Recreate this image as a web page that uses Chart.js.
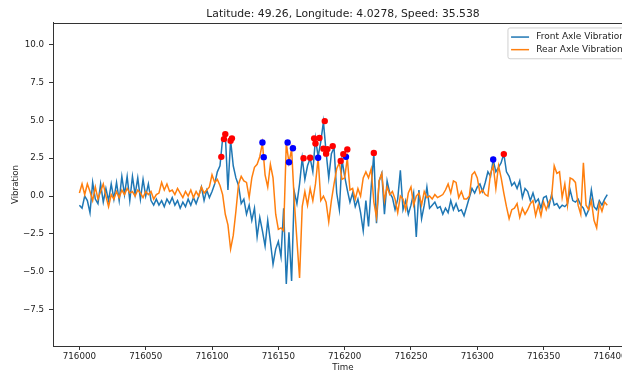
<!DOCTYPE html>
<html>
<head>
<meta charset="utf-8">
<script src="https://cdn.jsdelivr.net/npm/chart.js@4.4.0/dist/chart.umd.min.js"></script>
<style>
html,body{margin:0;padding:0;background:#fff;overflow:hidden;width:622px;height:373px}
#wrap{width:622px;height:373px;overflow:hidden;position:relative}
canvas{position:absolute;left:0;top:0}
</style>
</head>
<body>
<div id="wrap"><canvas id="c" width="640" height="373"></canvas></div>
<script>
// ---------- data ----------
const titleText = 'Latitude: 49.26, Longitude: 4.0278, Speed: 35.538';
const xLabel = 'Time';
const yLabel = 'Vibration';
const frontLabel = 'Front Axle Vibration';
const rearLabel = 'Rear Axle Vibration';
const startTime = 716000;
const timeStep = 2;

const xTicks = [716000, 716050, 716100, 716150, 716200, 716250, 716300, 716350, 716400];
const yTicks = [-7.5, -5.0, -2.5, 0.0, 2.5, 5.0, 7.5, 10.0];

const frontValues = [
  -0.6, -0.8, 0.0, -0.3, -1.1, 0.9, -0.2, -0.5, 0.8, -0.4, 0.5, -0.3, 0.8, -0.2, 0.9, -0.3, 1.3, 0.1, 1.3, -0.3,
  1.3, 0.1, 1.2, -0.2, 1.1, 0.0, 0.8, -0.3, -0.6, -0.2,
  -0.6, -0.3, -0.7, -0.2, -0.5, -0.1, -0.6, -0.3, -0.8, -0.4, -0.7, -0.2, -0.6, -0.1, -0.5, 0.0, 0.6, -0.3, 0.4, -0.1,
  0.3, 0.8, 1.6, 2.0, 3.8, 4.1, 0.4, 3.7, 2.0, 1.2, 0.7, -0.5, -0.2, -1.2, -0.6, -1.6, -0.8, -2.7,
  -1.4, -2.3, -3.3, -1.6, -3.0, -4.5, -3.5, -3.0, -4.0, -0.8, -5.8, -2.4, -5.6, 0.3, -0.5, 0.8, 2.5, 1.1, 2.0, 2.5,
  1.6, 3.8, 2.6, 3.6, 4.9, 2.9, 1.2, 2.8, 3.2, 0.2, -0.9, 2.4, 1.3, 0.4, -0.4, 0.2, -0.7, -0.2, -1.1, -2.3, -0.3, -2.0,
  0.6, 2.8, -1.8, 1.0, 1.5, -1.2, 1.0, 0.2, -0.1, -0.9, -0.2, 1.7, -0.9, -0.3, -1.2, -0.6, 0.2, -2.7, 0.4, -1.5,
  -0.6, 0.6, -0.8, -0.6, -0.4, -0.8, -0.7, -1.2, -0.8, -1.1, -0.3, -0.9, -0.5, -1.0, -0.9, -1.3,
  -0.7, -0.1, 0.5, 0.2, 0.6, 0.8, 0.3, 0.9, 1.6, 1.3, 2.4, 1.6, 1.9, 2.2, 2.8, 1.6, 1.3, 0.7, 0.9, 0.5,
  1.0, -0.1, 0.5, 0.3, -0.3, 0.2, -0.4, -0.2, -0.8, -0.1, 0.0, -0.7, 0.1, -0.6, -0.5,
  -0.8, -0.6, -0.7, -0.5, 0.4, -0.3, -0.4, -0.2, -0.6, -0.8, -1.3, -0.9, 0.4, -0.7, -0.9, -0.3, -0.6, -0.2, 0.1
];

const rearValues = [
  0.2, 0.8, 0.1, 0.8, 0.3, -0.3, 0.6, -0.2, 0.3, 0.8, 0.0, -0.7, 0.1, -0.2, 0.3, -0.1, 0.4, 0.1, 0.5, 0.2,
  0.3, 0.0, 0.4, 0.2, -0.1, 0.3, 0.1, 0.3, -0.2, 0.1, 0.2, 0.9, 0.4, 0.8, 0.3,
  0.4, 0.1, 0.5, 0.2, -0.1, 0.3, 0.0, 0.4, -0.1, 0.3, 0.0, 0.6, 0.2, 0.4, 0.6, 1.4, 0.9, 1.1, 0.7, 0.1,
  -1.2, -1.9, -3.5, -2.6, -1.0, 0.8, 1.3, 1.0, 0.9, -0.1, 1.2, 1.9, 2.1, 2.6, 3.5, 1.4, 0.6, 2.1, 1.2, -1.2,
  -2.2, -2.1, -2.3, 3.5, 2.2, 3.1, -0.3, -2.9, -5.4, -0.7, 0.3, -0.6, 0.5, -0.3, 0.8, 2.5, -0.3, 0.0, -0.4, -1.7,
  -0.3, 0.8, 1.8, 2.2, 1.1, 1.2, 2.5, 0.4, 0.5, -0.2, 0.5, 0.0, 1.2, 1.6,
  1.2, 1.8, -0.4, -1.4, 1.0, 1.5, -0.3, 0.6, 0.1, 0.3, -0.2, -1.1, 0.0, -0.2, -0.9, 0.2, 0.6, -0.6, 0.0, 0.2,
  -0.6, 0.3, -0.1, 0.0, -0.2, 0.1, -0.1, 0.0, 0.1, 0.4, 0.8, 0.2, 1.0, 0.9, -0.1, 0.3, -0.2, -0.2, 0.0,
  1.4, 1.6, 1.2, 0.2, 0.4, 0.1, 0.0, 1.5, 2.0, 0.5, 2.0, 1.2, 0.2, -0.7, -1.5, -0.9, -0.8, -0.5, -1.4, -0.8,
  -1.2, -0.9, -0.5, -0.3, -1.3, -0.6,
  -1.3, -0.4, -0.9, -0.4, -0.1, 2.0, 1.5, 1.6, -0.1, 0.8, -0.6, 1.2, 1.1, 0.9, -0.6, -1.2, 2.2, -0.6, -0.9, -0.3,
  -1.6, -2.1, -0.5, -1.0, -0.4, -0.6
];

const redPointTimes  = [716107, 716109, 716110, 716114, 716115, 716169, 716174, 716177, 716178, 716181,
                        716185, 716184, 716186, 716187, 716191, 716197, 716199, 716202, 716222, 716320];
const redPointValues = [2.59, 3.76, 4.09, 3.65, 3.81, 2.50, 2.53, 3.81, 3.47, 3.83,
                        4.95, 3.13, 2.80, 3.10, 3.30, 2.32, 2.77, 3.08, 2.85, 2.77];
const bluePointTimes  = [716138, 716139, 716157, 716158, 716161, 716180, 716201, 716312];
const bluePointValues = [3.54, 2.57, 3.54, 2.23, 3.16, 2.53, 2.59, 2.41];

// ---------- build chart ----------
const toXY = (vals) => vals.map((v, i) => ({x: startTime + i * timeStep, y: v}));
const toPts = (ts, vs) => ts.map((t, i) => ({x: t, y: vs[i]}));

const FONT = "'DejaVu Sans', 'Liberation Sans', sans-serif";
const TXT = '#222';

const framePlugin = {
  id: 'frame',
  afterDraw(chart) {
    const {ctx, chartArea: a} = chart;
    ctx.save();
    ctx.strokeStyle = '#333';
    ctx.lineWidth = 1;
    ctx.strokeRect(Math.round(a.left) + 0.5, Math.round(a.top) + 0.5,
                   Math.round(a.right - a.left), Math.round(a.bottom - a.top));
    ctx.restore();
  }
};

const legendPlugin = {
  id: 'mplLegend',
  afterDatasetsDraw(chart) {
    const {ctx, chartArea: a} = chart;
    const items = chart.data.datasets.filter(d => d.legendRank !== undefined)
                       .sort((p, q) => p.legendRank - q.legendRank);
    const fs = 9;
    ctx.save();
    ctx.font = fs + 'px ' + FONT;
    const tw = Math.max(...items.map(d => ctx.measureText(d.label).width));
    const pad = 0.4 * fs, handle = 2 * fs, gap = 0.8 * fs, rowH = fs * 1.4;
    const w = pad + handle + gap + tw + pad;
    const h = pad * 2 + rowH * items.length - 0.4 * fs + 2;
    const x0 = a.right - 0.5 * fs - w;
    const y0 = a.top + 0.5 * fs;
    ctx.fillStyle = 'rgba(255,255,255,0.8)';
    ctx.strokeStyle = '#d0d0d0';
    ctx.lineWidth = 1;
    ctx.beginPath();
    ctx.roundRect(x0 + 0.5, y0 + 0.5, w, h, 2);
    ctx.fill();
    ctx.stroke();
    items.forEach((d, i) => {
      const cy = y0 + pad + 1.5 + fs / 2 + i * rowH;
      ctx.strokeStyle = d.borderColor;
      ctx.lineWidth = 1.5;
      ctx.beginPath();
      ctx.moveTo(x0 + pad, cy);
      ctx.lineTo(x0 + pad + handle, cy);
      ctx.stroke();
      ctx.fillStyle = TXT;
      ctx.textBaseline = 'middle';
      ctx.textAlign = 'left';
      ctx.fillText(d.label, x0 + pad + handle + gap, cy);
    });
    ctx.restore();
  }
};

const fmtY = (v) => (v < 0 ? '\u2212' : '') + Math.abs(v).toFixed(1);

new Chart(document.getElementById('c'), {
  type: 'line',
  data: {
    datasets: [
      {type: 'scatter', label: 'red', data: toPts(redPointTimes, redPointValues),
       backgroundColor: '#ff0000', borderWidth: 0, pointRadius: 3.2, order: 0},
      {type: 'scatter', label: 'blue', data: toPts(bluePointTimes, bluePointValues),
       backgroundColor: '#0000ff', borderWidth: 0, pointRadius: 3.2, order: 0},
      {label: rearLabel, data: toXY(rearValues), borderColor: '#ff7f0e', borderWidth: 1.5,
       pointRadius: 0, tension: 0, fill: false, order: 1, legendRank: 1},
      {label: frontLabel, data: toXY(frontValues), borderColor: '#1f77b4', borderWidth: 1.5,
       pointRadius: 0, tension: 0, fill: false, order: 2, legendRank: 0}
    ]
  },
  options: {
    responsive: false,
    animation: false,
    devicePixelRatio: 1,
    layout: {padding: {left: 0, right: 7, top: 0, bottom: 0}},
    plugins: {
      legend: {display: false},
      tooltip: {enabled: false},
      title: {display: true, text: titleText, fullSize: false, color: TXT,
              font: {family: FONT, size: 10.8, weight: 'normal'}, padding: {top: 8, bottom: 2}}
    },
    scales: {
      x: {
        type: 'linear', min: 715980.1, max: 716417.4,
        afterBuildTicks: (ax) => { ax.ticks = xTicks.map(v => ({value: v})); },
        afterFit: (ax) => { ax.height = 27; },
        ticks: {callback: (v) => String(v), color: TXT, font: {family: FONT, size: 8.7},
                padding: 2, maxRotation: 0, autoSkip: false},
        grid: {drawOnChartArea: false, drawTicks: true, tickLength: 4, color: '#333'},
        border: {display: true, color: '#333'},
        title: {display: true, text: xLabel, color: TXT, font: {family: FONT, size: 8.7},
                padding: {top: 0, bottom: 0}}
      },
      y: {
        type: 'linear', min: -9.9, max: 11.43,
        afterBuildTicks: (ax) => { ax.ticks = yTicks.map(v => ({value: v})); },
        afterFit: (ax) => { ax.width = 53; },
        ticks: {callback: fmtY, color: TXT, font: {family: FONT, size: 8.7}, padding: 5, autoSkip: false},
        grid: {drawOnChartArea: false, drawTicks: true, tickLength: 4, color: '#333'},
        border: {display: true, color: '#333'},
        title: {display: true, text: yLabel, color: TXT, font: {family: FONT, size: 8.7},
                padding: {top: 11, bottom: 0}}
      }
    }
  },
  plugins: [framePlugin, legendPlugin]
});
</script>
</body>
</html>
